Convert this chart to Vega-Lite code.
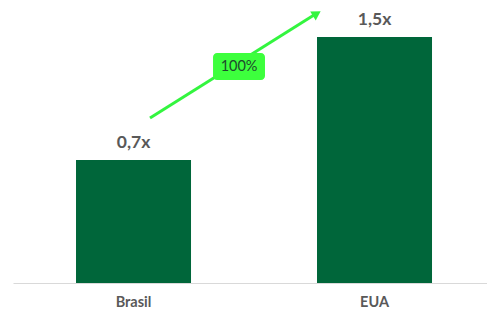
{
  "$schema": "https://vega.github.io/schema/vega-lite/v6.json",
  "width": 474,
  "height": 278,
  "autosize": {"type": "none"},
  "padding": {"left": 13, "top": 5, "right": 0, "bottom": 29},
  "config": {"view": {"stroke": null}, "font": "Lato"},
  "datasets": {
    "bars": [
      {"pais": "Brasil", "valor": 0.75, "rotulo": "0,7x"},
      {"pais": "EUA", "valor": 1.5, "rotulo": "1,5x"}
    ],
    "seta": [
      {"ordem": 1, "px": 0.0685, "py": 1.006},
      {"ordem": 2, "px": 0.749, "py": 1.634}
    ],
    "ponta": [{"px": 0.7606, "py": 1.6427}],
    "caixa": [{"x1": 0.33, "x2": 0.5456, "y1": 1.238, "y2": 1.402, "xc": 0.438, "yc": 1.32, "texto": "100%"}]
  },
  "layer": [
    {
      "data": {"name": "bars"},
      "encoding": {
        "x": {
          "field": "pais", "type": "nominal", "sort": null,
          "scale": {"paddingInner": 0.5228, "paddingOuter": 0.2448, "align": 0.534},
          "axis": {
            "title": null, "ticks": false, "labelAngle": 0, "labelPadding": 12,
            "labelFontSize": 14.5, "labelFontWeight": "bold", "labelColor": "#595959",
            "domainColor": "#d9d9d9", "domainWidth": 1
          }
        },
        "y": {
          "field": "valor", "type": "quantitative",
          "scale": {"domain": [0, 1.695], "nice": false, "zero": true},
          "axis": null
        }
      },
      "layer": [
        {"mark": {"type": "bar", "color": "#00663A"}},
        {
          "mark": {"type": "text", "dy": -12, "baseline": "alphabetic", "fontSize": 17.5, "fontWeight": "bold", "color": "#595959"},
          "encoding": {"text": {"field": "rotulo"}}
        }
      ]
    },
    {
      "layer": [
        {
          "data": {"name": "seta"},
          "mark": {"type": "line", "color": "#33F53F", "strokeWidth": 3},
          "encoding": {
            "x": {"field": "px", "type": "quantitative", "scale": {"domain": [-0.5, 1.4668], "nice": false, "zero": false}, "axis": null},
            "y": {"field": "py", "type": "quantitative", "scale": {"domain": [0, 1.695], "nice": false, "zero": true}, "axis": null},
            "order": {"field": "ordem"}
          }
        },
        {
          "data": {"name": "ponta"},
          "mark": {"type": "point", "shape": "triangle-up", "filled": true, "color": "#33F53F", "size": 110, "angle": 58, "opacity": 1},
          "encoding": {
            "x": {"field": "px", "type": "quantitative", "scale": {"domain": [-0.5, 1.4668], "nice": false, "zero": false}, "axis": null},
            "y": {"field": "py", "type": "quantitative", "scale": {"domain": [0, 1.695], "nice": false, "zero": true}, "axis": null}
          }
        },
        {
          "data": {"name": "caixa"},
          "mark": {"type": "rect", "color": "#3DFF3D", "cornerRadius": 4},
          "encoding": {
            "x": {"field": "x1", "type": "quantitative", "scale": {"domain": [-0.5, 1.4668], "nice": false, "zero": false}, "axis": null},
            "x2": {"field": "x2"},
            "y": {"field": "y1", "type": "quantitative", "scale": {"domain": [0, 1.695], "nice": false, "zero": true}, "axis": null},
            "y2": {"field": "y2"}
          }
        },
        {
          "data": {"name": "caixa"},
          "mark": {"type": "text", "fontSize": 14.5, "color": "#1E4A2C", "baseline": "middle", "align": "center"},
          "encoding": {
            "x": {"field": "xc", "type": "quantitative", "scale": {"domain": [-0.5, 1.4668], "nice": false, "zero": false}, "axis": null},
            "y": {"field": "yc", "type": "quantitative", "scale": {"domain": [0, 1.695], "nice": false, "zero": true}, "axis": null},
            "text": {"field": "texto"}
          }
        }
      ]
    }
  ],
  "resolve": {"scale": {"x": "independent", "y": "independent"}, "axis": {"x": "independent", "y": "independent"}}
}
